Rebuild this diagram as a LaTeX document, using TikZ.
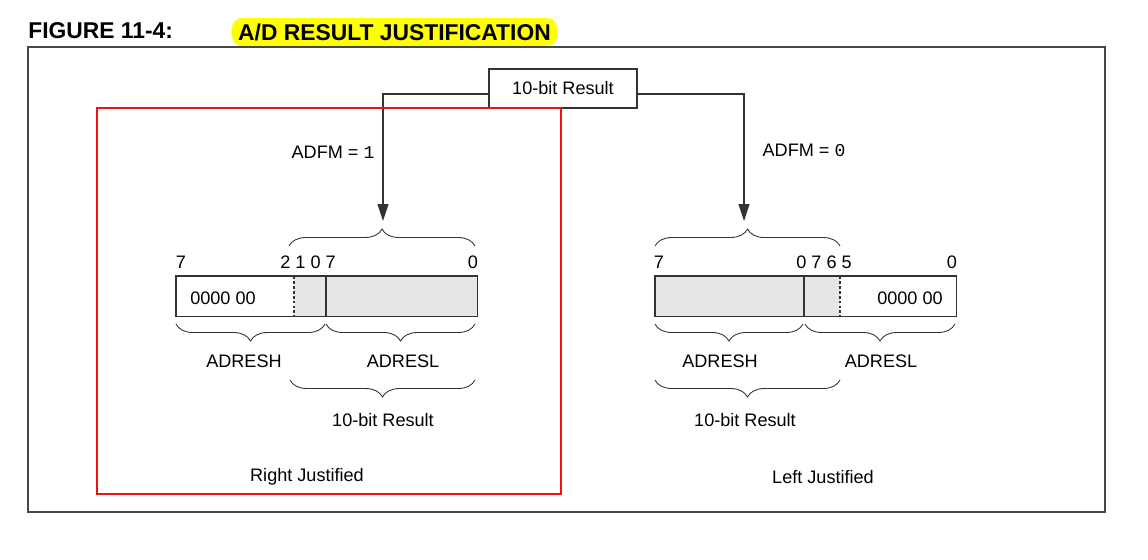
\documentclass[tikz,border=0pt]{standalone}
\usepackage{fontspec}
\setmainfont{Liberation Sans}
\setmonofont{Liberation Mono}
\usepackage{tikz}
\usetikzlibrary{arrows.meta,positioning,decorations.pathreplacing}
\definecolor{hilite}{HTML}{FFFF00}
\definecolor{frameline}{HTML}{484848}
\definecolor{redline}{HTML}{EE1111}
\definecolor{cellgray}{HTML}{E6E6E6}

\begin{document}
\begin{tikzpicture}[x=0.02cm, y=-0.02cm,
    txt/.style={font=\fontsize{10.3}{12}\selectfont, inner sep=0pt},
    ttlfont/.style={font=\fontsize{13}{15}\selectfont\bfseries, inner sep=0pt},
    cell/.style={rectangle, inner sep=0pt, minimum height=0.8cm, anchor=north west},
    reg/.style={draw=black!80, line width=0.6pt},
    brcup/.style={decorate, decoration={brace, amplitude=0.34cm}, draw=black!80, line width=0.5pt},
    brcdown/.style={decorate, decoration={brace, mirror, amplitude=0.34cm}, draw=black!80, line width=0.5pt},
    flow/.style={draw=black!80, line width=0.6pt, -{Triangle[length=3.4mm, width=2.2mm]}}
]
    \useasboundingbox (0,0) rectangle (1148,559);

    % Title
    \node[ttlfont, anchor=west] (fig) at (28,31) {FIGURE 11-4:};
    \node[ttlfont, fill=hilite, rounded corners=0.2cm, minimum width=6.5cm, minimum height=0.56cm] (ttl) at (394.5,32) {A/D RESULT JUSTIFICATION};

    % Frame
    \draw[frameline, line width=0.8pt] (28,47) rectangle (1105,512);

    % Source
    \node[reg, fill=white, txt, minimum width=2.96cm, minimum height=0.78cm] (res) at (563,88.5) {10-bit Result};
    \coordinate (ltip) at (383,221);
    \coordinate (rtip) at (744,221);
    \draw[flow] (res.west |- 0,94) -| (ltip);
    \draw[flow] (res.east |- 0,94) -| (rtip);

    % Right justified box
    \draw[redline, line width=1.1pt] (97,108) rectangle (561,494);
    \node[txt] (lfm) at (333,152) {ADFM = \texttt{1}};

    % Right justified register
    \node[cell, fill=white, minimum width=2.36cm] (lhi) at (176,276) {};
    \node[cell, fill=cellgray, minimum width=0.64cm] (lmid) at (294,276) {};
    \node[cell, fill=cellgray, minimum width=3.02cm] (llo) at (326,276) {};
    \draw[reg] (lhi.north west) rectangle (llo.south east);
    \draw[reg, dash pattern=on 1.6pt off 1.2pt] (lmid.north west) -- (lmid.south west);
    \draw[reg] (llo.north west) -- (llo.south west);
    \node[txt] (lzero) at (223,298) {0000 00};
    \node[txt] (lb7) at (181,262) {7};
    \node[txt] (lbmid) at (308,262) {2 1 0 7};
    \node[txt] (lb0) at (473,262) {0};

    \draw[brcup] (289,246) -- (475,246);
    \draw[brcdown] (176,324) -- (325,324);
    \draw[brcdown] (326,324) -- (475,324);
    \draw[brcdown] (290,380) -- (475,380);
    \node[txt] (lhn) at (244,361) {ADRESH};
    \node[txt] (lln) at (403,361) {ADRESL};
    \node[txt] (lres) at (383,420) {10-bit Result};
    \node[txt] (lcap) at (307,477) {Right Justified};

    % Left justified register
    \node[txt] (rfm) at (804,150) {ADFM = \texttt{0}};
    \node[cell, fill=cellgray, minimum width=2.98cm] (rhi) at (655,276) {};
    \node[cell, fill=cellgray, minimum width=0.72cm] (rmid) at (804,276) {};
    \node[cell, fill=white, minimum width=2.32cm] (rlo) at (840,276) {};
    \draw[reg] (rhi.north west) rectangle (rlo.south east);
    \draw[reg] (rmid.north west) -- (rmid.south west);
    \draw[reg, dash pattern=on 1.6pt off 1.2pt] (rlo.north west) -- (rlo.south west);
    \node[txt] (rzero) at (910,298) {0000 00};
    \node[txt] (rb7) at (659,262) {7};
    \node[txt] (rbmid) at (824,262) {0 7 6 5};
    \node[txt] (rb0) at (952,262) {0};

    \draw[brcup] (655,246) -- (840,246);
    \draw[brcdown] (655,324) -- (803,324);
    \draw[brcdown] (805,324) -- (955,324);
    \draw[brcdown] (655,380) -- (840,380);
    \node[txt] (rhn) at (720,361) {ADRESH};
    \node[txt] (rln) at (881,361) {ADRESL};
    \node[txt] (rres) at (745,420) {10-bit Result};
    \node[txt] (rcap) at (823,477) {Left Justified};
\end{tikzpicture}
\end{document}
